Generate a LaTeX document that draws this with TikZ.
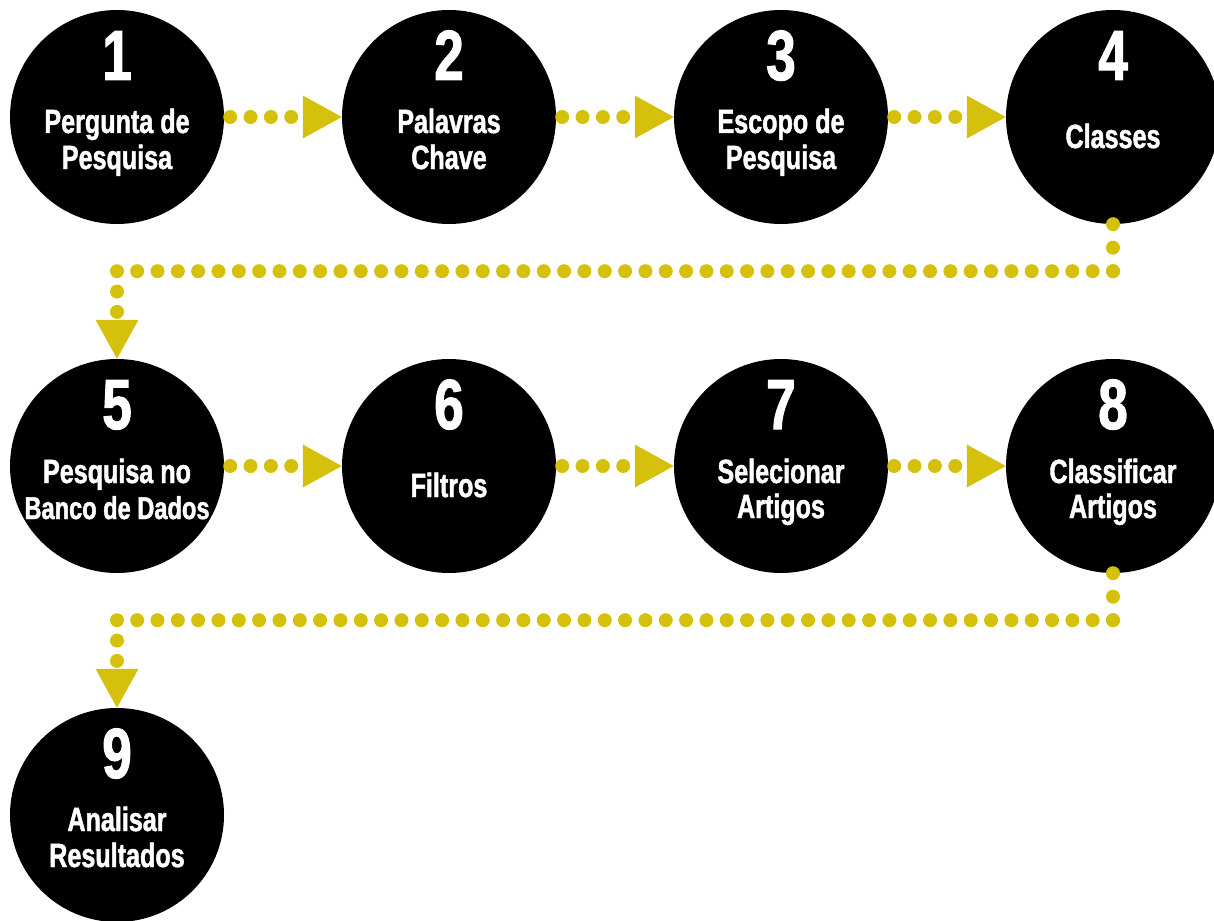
\documentclass[tikz,border=0pt]{standalone}
\usepackage{fontspec}
\newfontfamily\stepfont{Liberation Sans}[FakeStretch=0.75,FakeBold=1.4]
\usetikzlibrary{calc}
\definecolor{dotyellow}{RGB}{213,193,12}

\begin{document}
\begin{tikzpicture}[x=1pt,y=-1pt,
  stepcircle/.style={circle,fill=black,minimum size=214pt,inner sep=0pt},
  numtext/.style={anchor=base,text=white,inner sep=0pt,
    font=\stepfont\bfseries\fontsize{71}{71}\selectfont},
  lbltext/.style={anchor=base,text=white,inner sep=0pt,
    font=\stepfont\bfseries\fontsize{33.5}{33.5}\selectfont},
  widetext/.style={lbltext,font=\stepfont\bfseries\fontsize{31.5}{31.5}\selectfont},
  dotline/.style={draw=dotyellow,line width=14pt,line cap=round,
    dash pattern=on 0pt off #1},
  dotline/.default=20.33pt,
  arrowhead/.style={fill=dotyellow}
]
\useasboundingbox (0,0) rectangle (1214,920);
\clip (0,0) rectangle (1214,920);

% the nine steps
\node[stepcircle] (c1) at (117,117) {};
\node[stepcircle] (c2) at (449,117) {};
\node[stepcircle] (c3) at (781,117) {};
\node[stepcircle] (c4) at (1113,117) {};
\node[stepcircle] (c5) at (117,466) {};
\node[stepcircle] (c6) at (449,466) {};
\node[stepcircle] (c7) at (781,466) {};
\node[stepcircle] (c8) at (1113,466) {};
\node[stepcircle] (c9) at (117,815) {};

% straight dotted arrows within a row
\foreach \a/\b in {c1/c2,c2/c3,c3/c4,c5/c6,c6/c7,c7/c8}{
  \draw[dotline] ($(\a.east)+(6,0)$) -- ($(\b.west)+(-48,0)$);
  \fill[arrowhead] (\b.west) -- ++(-39,-21.5) -- ++(0,43) -- cycle;
}

% elbow arrows from the end of a row to the start of the next
\coordinate (k4) at ($(c4.south)+(0,47)$);
\coordinate (k5) at (c5.north |- k4);
\draw[dotline=23.5pt] (c4.south) -- (k4);
\draw[dotline] (k4) -- (k5);
\draw[dotline] (k5) -- ($(c5.north)+(0,-45)$);
\fill[arrowhead] (c5.north) -- ++(-21.5,-39) -- ++(43,0) -- cycle;

\coordinate (k8) at ($(c8.south)+(0,47)$);
\coordinate (k9) at (c9.north |- k8);
\draw[dotline=23.5pt] (c8.south) -- (k8);
\draw[dotline] (k8) -- (k9);
\draw[dotline] (k9) -- ($(c9.north)+(0,-45)$);
\fill[arrowhead] (c9.north) -- ++(-21.5,-39) -- ++(43,0) -- cycle;

% numbers and captions
\node[numtext] (n1) at ($(c1)+(0,-37)$) {1};
\node[lbltext] (a1) at ($(c1)+(0,16)$) {Pergunta de};
\node[lbltext] (b1) at ($(c1)+(0,52)$) {Pesquisa};

\node[numtext] (n2) at ($(c2)+(0,-37)$) {2};
\node[lbltext] (a2) at ($(c2)+(0,16)$) {Palavras};
\node[lbltext] (b2) at ($(c2)+(0,52)$) {Chave};

\node[numtext] (n3) at ($(c3)+(0,-37)$) {3};
\node[lbltext] (a3) at ($(c3)+(0,16)$) {Escopo de};
\node[lbltext] (b3) at ($(c3)+(0,52)$) {Pesquisa};

\node[numtext] (n4) at ($(c4)+(0,-37)$) {4};
\node[lbltext] (a4) at ($(c4)+(0,31)$) {Classes};

\node[numtext] (n5) at ($(c5)+(0,-37)$) {5};
\node[lbltext] (a5) at ($(c5)+(0,17)$) {Pesquisa no};
\node[widetext] (b5) at ($(c5)+(0,53)$) {Banco de Dados};

\node[numtext] (n6) at ($(c6)+(0,-37)$) {6};
\node[lbltext] (a6) at ($(c6)+(0,31)$) {Filtros};

\node[numtext] (n7) at ($(c7)+(0,-37)$) {7};
\node[lbltext] (a7) at ($(c7)+(0,17)$) {Selecionar};
\node[lbltext] (b7) at ($(c7)+(0,52)$) {Artigos};

\node[numtext] (n8) at ($(c8)+(0,-37)$) {8};
\node[lbltext] (a8) at ($(c8)+(0,17)$) {Classificar};
\node[lbltext] (b8) at ($(c8)+(0,52)$) {Artigos};

\node[numtext] (n9) at ($(c9)+(0,-37)$) {9};
\node[lbltext] (a9) at ($(c9)+(0,16)$) {Analisar};
\node[lbltext] (b9) at ($(c9)+(0,52)$) {Resultados};
\end{tikzpicture}
\end{document}
